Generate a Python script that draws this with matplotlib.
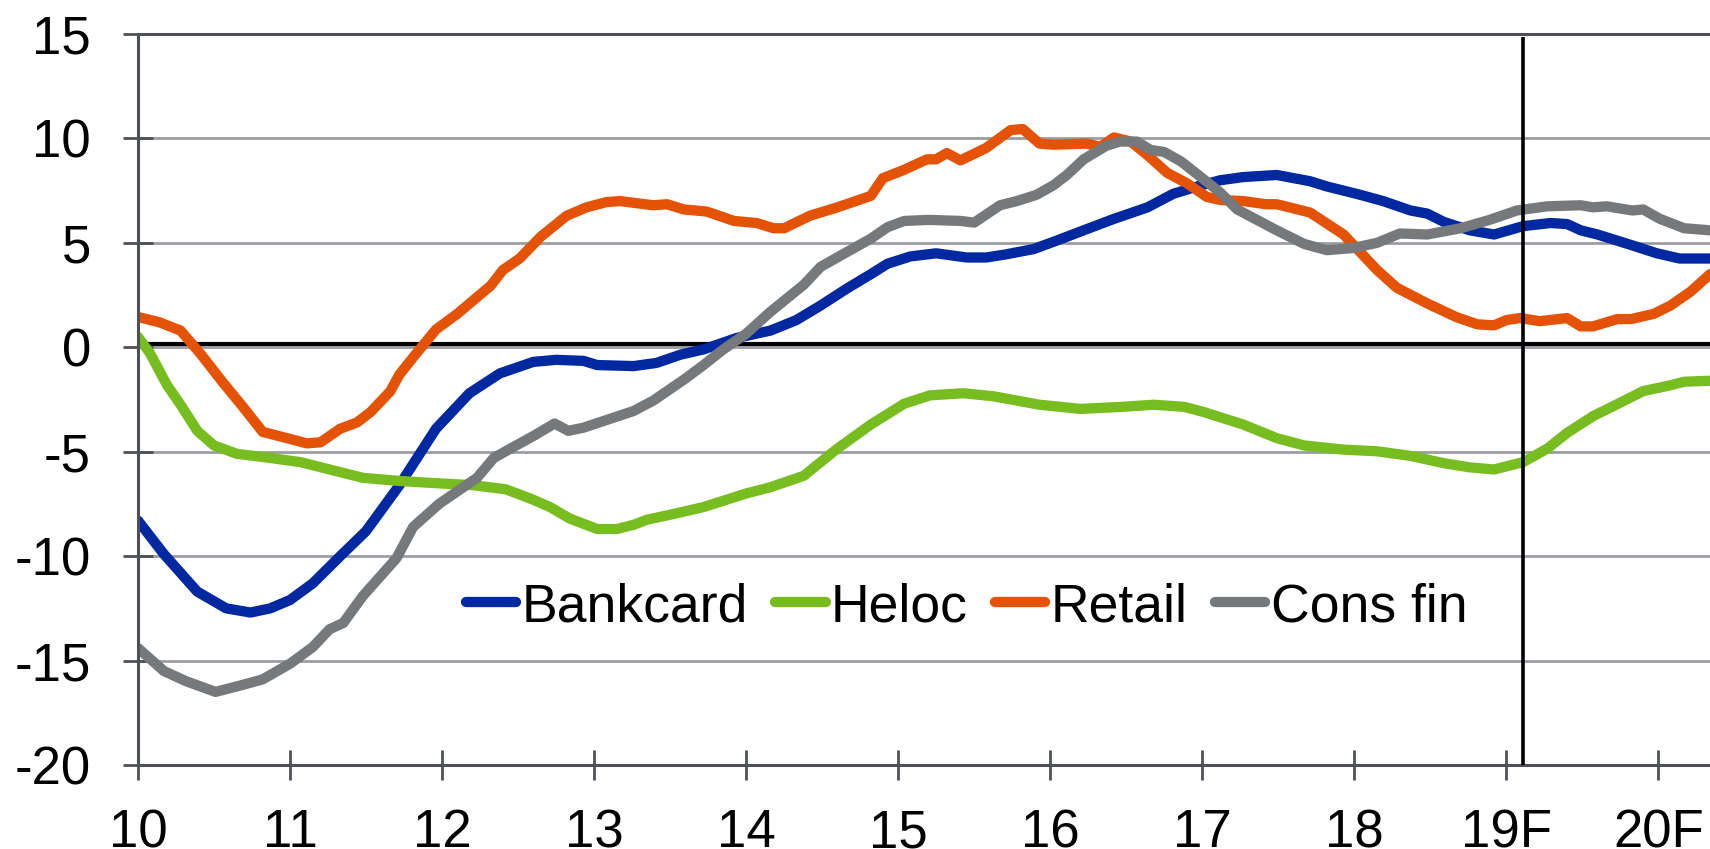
import matplotlib
matplotlib.use("Agg")
import matplotlib.pyplot as plt

# values (year, % y/y)
bank_x = [10.00, 10.17, 10.39, 10.58, 10.74, 10.87, 11.00, 11.15, 11.33, 11.50, 11.72, 11.96,
          12.18, 12.38, 12.60, 12.75, 12.93, 13.02, 13.26, 13.41, 13.57, 13.72, 13.94, 14.16,
          14.33, 14.49, 14.66, 14.82, 14.93, 15.08, 15.25, 15.45, 15.58, 15.71, 15.89, 16.04,
          16.22, 16.42, 16.64, 16.81, 16.99, 17.12, 17.27, 17.49, 17.71, 17.82, 18.04, 18.19,
          18.37, 18.48, 18.59, 18.76, 18.92, 19.11, 19.29, 19.40, 19.49, 19.60, 19.82, 19.99,
          20.14, 20.34]
bank_y = [-8.3, -9.9, -11.7, -12.5, -12.7, -12.5, -12.1, -11.3, -10.0, -8.8, -6.6, -3.9,
          -2.2, -1.25, -0.7, -0.6, -0.65, -0.85, -0.9, -0.75, -0.35, -0.1, 0.45, 0.8,
          1.3, 2.0, 2.8, 3.5, 4.0, 4.35, 4.5, 4.3, 4.3, 4.45, 4.7, 5.1,
          5.6, 6.15, 6.7, 7.35, 7.75, 8.0, 8.15, 8.25, 7.95, 7.7, 7.3, 7.0,
          6.55, 6.4, 6.0, 5.6, 5.4, 5.8, 5.95, 5.9, 5.6, 5.4, 4.9, 4.5,
          4.25, 4.25]

heloc_x = [10.00, 10.08, 10.19, 10.28, 10.39, 10.50, 10.65, 10.87, 11.07, 11.26, 11.48, 11.72,
           11.94, 12.20, 12.42, 12.60, 12.71, 12.84, 13.02, 13.15, 13.26, 13.35, 13.48, 13.72,
           14.00, 14.16, 14.38, 14.60, 14.82, 15.04, 15.21, 15.43, 15.63, 15.93, 16.20, 16.48,
           16.68, 16.88, 17.01, 17.27, 17.49, 17.67, 17.93, 18.15, 18.37, 18.59, 18.76, 18.92,
           19.11, 19.27, 19.40, 19.57, 19.75, 19.90, 20.06, 20.17, 20.34]
heloc_y = [0.5, -0.3, -1.8, -2.75, -4.0, -4.7, -5.1, -5.3, -5.5, -5.85, -6.25, -6.4,
           -6.5, -6.6, -6.8, -7.3, -7.65, -8.2, -8.7, -8.7, -8.5, -8.25, -8.05, -7.65,
           -7.0, -6.7, -6.15, -4.85, -3.7, -2.7, -2.3, -2.2, -2.35, -2.75, -2.95, -2.85,
           -2.75, -2.85, -3.1, -3.7, -4.35, -4.7, -4.9, -4.98, -5.2, -5.55, -5.75, -5.85,
           -5.5, -4.85, -4.1, -3.3, -2.65, -2.1, -1.85, -1.65, -1.6]

retail_x = [10.00, 10.14, 10.28, 10.41, 10.56, 10.69, 10.82, 10.98, 11.11, 11.20, 11.33, 11.44,
            11.53, 11.66, 11.72, 11.83, 11.96, 12.10, 12.32, 12.40, 12.51, 12.65, 12.82, 12.95,
            13.08, 13.17, 13.39, 13.48, 13.59, 13.74, 13.92, 14.07, 14.18, 14.25, 14.42, 14.60,
            14.82, 14.90, 15.04, 15.19, 15.25, 15.32, 15.41, 15.58, 15.74, 15.82, 15.93, 16.02,
            16.24, 16.33, 16.42, 16.53, 16.64, 16.77, 16.90, 17.03, 17.12, 17.27, 17.42, 17.49,
            17.71, 17.93, 18.15, 18.28, 18.48, 18.67, 18.81, 18.92, 19.00, 19.09, 19.22, 19.40,
            19.49, 19.57, 19.73, 19.82, 19.97, 20.08, 20.21, 20.34]
retail_y = [1.45, 1.2, 0.8, -0.3, -1.7, -2.85, -4.05, -4.35, -4.6, -4.55, -3.9, -3.6,
            -3.1, -2.1, -1.3, -0.3, 0.85, 1.6, 2.95, 3.7, 4.25, 5.3, 6.3, 6.7,
            6.95, 7.0, 6.8, 6.85, 6.6, 6.5, 6.05, 5.95, 5.7, 5.7, 6.3, 6.7,
            7.25, 8.1, 8.5, 9.0, 9.0, 9.3, 8.95, 9.55, 10.4, 10.45, 9.75, 9.7,
            9.75, 9.6, 10.05, 9.85, 9.2, 8.35, 7.85, 7.2, 7.05, 7.0, 6.85, 6.85,
            6.45, 5.4, 3.7, 2.85, 2.1, 1.45, 1.1, 1.05, 1.3, 1.4, 1.25, 1.4,
            1.0, 1.0, 1.35, 1.35, 1.6, 2.0, 2.65, 3.5]

consfin_x = [10.00, 10.17, 10.32, 10.51, 10.67, 10.82, 11.00, 11.15, 11.26, 11.35, 11.48, 11.70,
             11.81, 11.98, 12.23, 12.34, 12.45, 12.60, 12.74, 12.83, 12.93, 13.26, 13.39, 13.50,
             13.60, 13.72, 13.85, 14.00, 14.16, 14.38, 14.49, 14.66, 14.82, 14.93, 15.04, 15.20,
             15.41, 15.50, 15.67, 15.78, 15.91, 16.02, 16.11, 16.22, 16.37, 16.46, 16.57, 16.66,
             16.75, 16.86, 17.00, 17.12, 17.23, 17.49, 17.67, 17.82, 17.99, 18.15, 18.30, 18.48,
             18.70, 18.89, 19.07, 19.27, 19.49, 19.57, 19.66, 19.83, 19.90, 20.01, 20.17, 20.34]
consfin_y = [-14.4, -15.5, -16.0, -16.5, -16.2, -15.9, -15.15, -14.35, -13.5, -13.2, -11.9, -10.1,
             -8.6, -7.5, -6.25, -5.3, -4.85, -4.25, -3.65, -4.0, -3.85, -3.05, -2.55, -2.0,
             -1.5, -0.85, -0.1, 0.65, 1.7, 3.0, 3.85, 4.55, 5.2, 5.75, 6.05, 6.1,
             6.05, 5.97, 6.8, 7.0, 7.3, 7.75, 8.25, 9.0, 9.65, 9.85, 9.85, 9.45,
             9.35, 8.9, 8.1, 7.4, 6.6, 5.6, 4.95, 4.65, 4.75, 5.0, 5.45, 5.4,
             5.7, 6.1, 6.55, 6.75, 6.8, 6.7, 6.75, 6.55, 6.6, 6.15, 5.7, 5.6]

year_ticks = [10, 11, 12, 13, 14, 15, 16, 17, 18, 19, 20]
year_labels = ["10", "11", "12", "13", "14", "15", "16", "17", "18", "19F", "20F"]
zero_level = 0.18
forecast_start = 19.11

plt.rcParams['font.family'] = ['Liberation Sans', 'DejaVu Sans']
plt.rcParams['axes.unicode_minus'] = False

fig = plt.figure(figsize=(17.1, 8.49), dpi=100)
ax = fig.add_axes([138 / 1710, 84 / 849, 1572 / 1710, 731 / 849])

axis_col = '#4d5156'
ax.set_xlim(10, 20.34)
ax.set_ylim(-20, 15)
ax.set_yticks(range(-20, 16, 5))
ax.set_xticks(year_ticks)
ax.set_xticklabels(year_labels)
ax.yaxis.grid(True, color='#9a9da1', lw=2)
ax.set_axisbelow(True)

for side in ['left', 'bottom', 'top']:
    ax.spines[side].set_color(axis_col)
    ax.spines[side].set_linewidth(2.2)
ax.spines['right'].set_visible(False)
ax.tick_params(axis='both', direction='inout', length=22, width=2, color=axis_col,
               labelsize=38, labelcolor='black')
ax.tick_params(axis='x', pad=20)
ax.tick_params(axis='y', pad=23)

ax.axhline(zero_level, xmin=0.003, color='black', lw=3, zorder=1.5)

series = [
    (bank_x, bank_y, '#0028a0', 'Bankcard'),
    (heloc_x, heloc_y, '#78bd20', 'Heloc'),
    (retail_x, retail_y, '#e35205', 'Retail'),
    (consfin_x, consfin_y, '#76797c', 'Cons fin'),
]
for xs, ys, col, name in series:
    ax.plot(xs, ys, color=col, lw=7.4, label=name, solid_capstyle='round',
            solid_joinstyle='round', zorder=2)

ax.plot([forecast_start, forecast_start], [-20, 14.85], color='black', lw=2.6, zorder=3,
        solid_capstyle='butt')

ax.legend(loc='center', bbox_to_anchor=(0.527, 0.216), ncol=4, frameon=False,
          fontsize=38.5, handlelength=0.95, handletextpad=0.1, columnspacing=0.5,
          borderpad=0.2)

fig.savefig('out.png', dpi=100)
